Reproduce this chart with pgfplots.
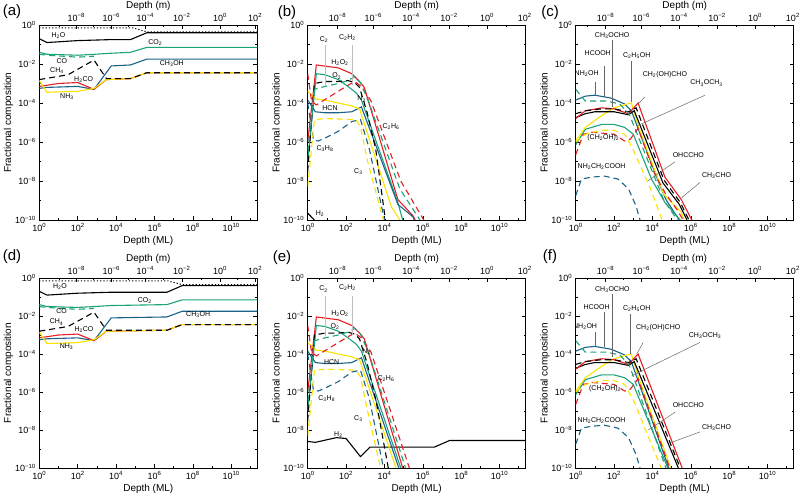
\documentclass[border=0pt]{standalone}
\usepackage{fontspec}
\setmainfont{Liberation Sans}
\usepackage{pgfplots}
\pgfplotsset{compat=1.18}
\newcommand{\tp}[1]{10\textsuperscript{#1}}
\newcommand{\mi}{\char"2212\relax}
\newcommand{\s}[1]{\textsubscript{#1}}
\definecolor{cred}{RGB}{228,30,36}
\definecolor{cgreen}{RGB}{28,162,122}
\definecolor{cblue}{RGB}{28,98,135}
\definecolor{cyel}{RGB}{250,226,0}
\tikzset{ds/.style={dash pattern=on 6pt off 4pt},
  mylab/.style={font=\fontsize{7}{8}\selectfont, inner sep=0pt},
  myletter/.style={font=\fontsize{15}{16}\selectfont},
  mylead/.style={gray!80!black, line width=0.5pt},
  myleadb/.style={gray!50, line width=1.5pt}}
\newcommand{\mainaxis}[2]{\begin{axis}[scale only axis, width=218pt, height=#2, at={#1}, anchor=south west,
    xmode=log, ymode=log, xmin=1, xmax=2.3e11, ymin=1e-10, ymax=1,
    tick label style={font=\fontsize{9}{10}\selectfont},
    label style={font=\fontsize{10}{12}\selectfont},
    major tick length=4pt, minor tick length=2pt, tick align=inside,
    axis line style={line width=0.8pt}, tick style={line width=0.6pt, black},
    xtick={1,1e2,1e4,1e6,1e8,1e10}, minor xtick={10,1e3,1e5,1e7,1e9,1e11},
    xticklabels={\tp{0},\tp{2},\tp{4},\tp{6},\tp{8},\tp{10}},
    ytick={1e-10,1e-8,1e-6,1e-4,1e-2,1}, minor ytick={1e-9,1e-7,1e-5,1e-3,1e-1},
    yticklabels={\tp{\mi10},\tp{\mi8},\tp{\mi6},\tp{\mi4},\tp{\mi2},\tp{0}},
    xtick pos=left, ylabel={Fractional composition}, xlabel={Depth (ML)},
    ylabel shift=-5pt, xlabel shift=-2pt,
    every axis plot/.append style={line width=1.1pt}]}
\newcommand{\topaxis}[5]{\begin{axis}[scale only axis, width=218pt, height=#2, at={#1}, anchor=south west,
    xmode=log, xmin=1, xmax=2.3e11, ymin=0, ymax=1,
    tick label style={font=\fontsize{9}{10}\selectfont},
    label style={font=\fontsize{10}{12}\selectfont},
    major tick length=4pt, minor tick length=2pt, tick align=inside,
    axis line style={line width=0.8pt}, tick style={line width=0.6pt, black},
    axis x line*=top, axis y line=none, xlabel={Depth (m)}, xlabel shift=-4pt,
    xtick={#3}, minor xtick={#4},
    xticklabels={\tp{\mi8},\tp{\mi6},\tp{\mi4},\tp{\mi2},\tp{0},\tp{2}}]
    \addplot[draw=none] coordinates {(1,0.5)};
    \end{axis}\node[myletter] at #5;}
\begin{document}
\begin{tikzpicture}
\useasboundingbox (0pt,0pt) rectangle (800pt,495pt);
%%%%%%%%%%%%%%%% (a)
\mainaxis{(39.3pt,275pt)}{195pt}
\addplot[black, line width=1pt, dash pattern=on 1.2pt off 2pt] coordinates {(1,0.7079)(7.943e4,0.7079)(3.981e5,0.4467)(2.3e11,0.4467)};
\addplot[black] coordinates {(1,0.1995)(2.512,0.1259)(100,0.1585)(5012,0.1778)(5.623e4,0.1778)(3.981e5,0.3981)(2.3e11,0.3981)};
\addplot[cgreen] coordinates {(1,3.981e-2)(2.512,3.162e-2)(100,2.818e-2)(794.3,3.162e-2)(5012,3.548e-2)(5.623e4,3.981e-2)(3.981e5,7.079e-2)(2.3e11,7.079e-2)};
\addplot[cgreen, ds] coordinates {(1,3.162e-2)(2.512,2.818e-2)(100,2.239e-2)(707.9,2.512e-2)};
\addplot[cblue] coordinates {(1,5.623e-4)(2.512,6.310e-4)(100,7.079e-4)(707.9,5.012e-4)(5623,7.943e-3)(5.623e4,8.913e-3)(3.981e5,1.778e-2)(2.3e11,1.778e-2)};
\addplot[cred] coordinates {(1,7.079e-4)(10,1e-3)(100,1.122e-3)(707.9,5.012e-4)(3162,1.585e-3)(5.623e4,1.778e-3)(3.981e5,3.548e-3)(2.3e11,3.548e-3)};
\addplot[cyel] coordinates {(1,1.413e-3)(2.512,3.548e-4)(100,3.981e-4)(707.9,5.623e-4)(3162,1.585e-3)(5.623e4,1.778e-3)(3.981e5,3.548e-3)(2.3e11,3.548e-3)};
\addplot[black, ds] coordinates {(1,1.585e-3)(31.62,2.818e-3)(707.9,1.585e-2)(3162,1.778e-3)(5.623e4,1.778e-3)(3.981e5,3.548e-3)(2.3e11,3.548e-3)};
\node[mylab] at (axis cs:10,0.275) {H\s{2}O};
\node[mylab] at (axis cs:1.1e6,0.123) {CO\s{2}};
\node[mylab] at (axis cs:15.1,1.41e-2) {CO};
\node[mylab] at (axis cs:8.1e6,1.07e-2) {CH\s{3}OH};
\node[mylab] at (axis cs:8.3,4.57e-3) {CH\s{4}};
\node[mylab] at (axis cs:204,1.51e-3) {H\s{2}CO};
\node[mylab] at (axis cs:27.5,2.09e-4) {NH\s{3}};
\end{axis}
\topaxis{(39.3pt,275pt)}{195pt}{85.1,5623,3.31e5,2.69e7,2.63e9,1.78e11}{10.5,692,4.3e4,2.99e6,2.66e8,2.16e10}{(12pt,483pt) {(a)}}
%%%%%%%%%%%%%%%% (b)
\mainaxis{(307.7pt,275pt)}{195pt}
\addplot[black] coordinates {(1,2.239e-10)(2.239,1e-10)};
\addplot[cred] coordinates {(1,1e-6)(2.818,8.913e-3)(39.81,6.310e-3)(199.5,3.162e-3)(562.3,1.122e-3)(891.3,6.310e-4)(5.012e4,1.122e-9)(3.162e5,1.585e-10)(3.981e5,1e-10)};
\addplot[cgreen] coordinates {(1,1e-7)(2.818,3.162e-3)(7.943,2.818e-3)(39.81,1.585e-3)(125.9,7.079e-4)(354.8,3.162e-4)(631,1.413e-4)(5.012e4,7.943e-10)(8.913e4,1e-10)};
\addplot[cblue] coordinates {(1,1.413e-4)(2.512,3.548e-5)(7.943,3.162e-5)(39.81,3.162e-5)(199.5,3.548e-5)(631,6.310e-5)(5.012e4,6.310e-10)(3.162e5,1.413e-10)(3.548e5,1e-10)};
\addplot[cyel] coordinates {(1,3.981e-4)(2.818,1.585e-4)(7.943,1.413e-4)(39.81,1e-4)(199.5,7.079e-5)(501.2,5.012e-5)(2.239e4,5.012e-10)(6.310e4,1e-10)};
\addplot[black, ds] coordinates {(1,3.162e-8)(2.239,1e-3)(7.943,1.259e-3)(39.81,1.259e-3)(125.9,1.413e-3)(281.8,1.122e-3)(501.2,6.310e-4)(1259,3.162e-5)(3548,3.981e-7)(1.122e4,1e-10)};
\addplot[cred, ds] coordinates {(1,3.162e-3)(1.585,1.259e-4)(2.818,7.943e-5)(100,7.079e-4)(281.8,1.259e-3)(631,7.079e-4)(1995,1.259e-4)(7.079e4,1e-8)(1.122e6,1e-10)};
\addplot[cgreen, ds] coordinates {(1,3.162e-7)(2.239,5.012e-4)(7.943,7.079e-4)(39.81,1e-3)(125.9,1.413e-3)(281.8,2.239e-3)(562.3,1.122e-3)(1585,1e-4)(6.310e4,3.981e-9)(7.079e5,1e-10)};
\addplot[cblue, ds] coordinates {(1,1e-4)(1.995,1.259e-6)(3.548,1.122e-6)(10,1.778e-6)(39.81,3.548e-6)(199.5,1.122e-5)(562.3,1.413e-5)(1585,5.012e-7)(1e4,1e-10)};
\addplot[cyel, ds] coordinates {(1,5.012e-9)(2.239,1.413e-5)(10,1.585e-5)(316.2,1.413e-5)(562.3,6.310e-6)(1259,1.259e-7)(7943,1.413e-10)(8913,1e-10)};
\addplot[myleadb] coordinates {(8.71,9.3e-2)(8.71,8.3e-4)};
\addplot[myleadb] coordinates {(219,9.3e-2)(219,8.3e-4)};
\node[mylab] at (axis cs:7.08,0.182) {C\s{2}};
\node[mylab] at (axis cs:117,0.234) {C\s{2}H\s{2}};
\node[mylab] at (axis cs:47.9,1.23e-2) {H\s{2}O\s{2}};
\node[mylab] at (axis cs:32.4,2.4e-3) {O\s{2}};
\node[mylab] at (axis cs:646,1.58e-4) {N\s{2}};
\node[mylab] at (axis cs:14.5,5.37e-5) {HCN};
\node[mylab] at (axis cs:2.2e4,6.17e-6) {C\s{2}H\s{6}};
\node[mylab] at (axis cs:7.94,4.79e-7) {C\s{3}H\s{8}};
\node[mylab] at (axis cs:437,3.02e-8) {C\s{3}};
\node[mylab] at (axis cs:4.37,2.19e-10) {H\s{2}};
\end{axis}
\topaxis{(307.7pt,275pt)}{195pt}{35.5,2630,2.40e5,2.34e7,2.24e9,2.09e11}{3.98,305,2.51e4,2.37e6,2.29e8,2.16e10}{(287pt,482pt) {(b)}}
%%%%%%%%%%%%%%%% (c)
\mainaxis{(575.7pt,275pt)}{195pt}
\addplot[cblue] coordinates {(1,1.413e-4)(3.162,2.239e-4)(10,2.512e-4)(70.79,1.778e-4)(354.8,8.913e-5)(794.3,3.981e-5)(1.995e4,1e-8)(5.012e4,1.122e-9)(2.512e5,1e-10)};
\addplot[cgreen] coordinates {(1,7.079e-7)(3.162,4.467e-6)(22.39,7.943e-6)(100,7.943e-6)(354.8,5.623e-6)(1000,2.512e-6)(8913,1.259e-8)(4.467e4,7.943e-10)(2.818e5,1e-10)};
\addplot[cyel] coordinates {(1,1.122e-6)(3.162,5.623e-6)(22.39,2.239e-5)(100,5.623e-5)(316.2,7.943e-5)(794.3,1e-4)(1995,5.012e-6)(3.981e4,1.995e-9)(3.162e5,2.512e-10)(4.467e5,1e-10)};
\addplot[black] coordinates {(1,1.778e-5)(3.162,2.818e-5)(10,3.548e-5)(100,3.548e-5)(562.3,2.512e-5)(1122,3.981e-5)(3.548e4,7.943e-9)(2.512e5,6.310e-10)(6.310e5,1e-10)};
\addplot[cred] coordinates {(1,1.585e-5)(3.162,3.981e-5)(22.39,5.623e-5)(100,5.012e-5)(562.3,2.818e-5)(1778,1e-4)(4.467e4,1.585e-8)(3.162e5,1.122e-9)(1.122e6,1e-10)};
\addplot[black, ds] coordinates {(1,2.818e-5)(3.162,3.981e-5)(22.39,5.012e-5)(100,5.012e-5)(562.3,3.548e-5)(1413,5.623e-5)(3.981e4,1.122e-8)(2.818e5,7.943e-10)(7.943e5,1e-10)};
\addplot[cgreen, ds] coordinates {(1,5.012e-4)(3.162,1.259e-4)(39.81,1.259e-4)(199.5,8.913e-5)(631,2.512e-5)(3.981e4,1e-9)(1.995e5,1e-10)};
\addplot[cred, ds] coordinates {(1,2.239e-7)(2.512,2.512e-6)(7.079,3.162e-6)(100,2.512e-6)(354.8,1.122e-6)(707.9,1.413e-6)(1778,5.012e-6)(1.259e4,2.512e-8)(4.467e4,2.512e-9)(1.995e5,3.162e-10)(3.981e5,1e-10)};
\addplot[cyel, ds] coordinates {(1,1e-6)(3.162,2.512e-6)(22.39,3.981e-6)(100,3.981e-6)(354.8,2.512e-6)(1000,3.981e-7)(7943,3.981e-9)(3.162e4,1e-10)};
\addplot[cblue, ds] coordinates {(1,1.778e-9)(1.995,1.259e-8)(7.079,1.585e-8)(31.62,1.778e-8)(158.5,1.259e-8)(562.3,3.981e-9)(1413,5.012e-10)(2239,1e-10)};
\addplot[mylead] coordinates {(81.3,0.162)(81.3,6.3e-5)};
\addplot[mylead] coordinates {(29.5,7.94e-3)(29.5,2.09e-4)};
\addplot[mylead] coordinates {(10,1.26e-3)(10,2.24e-4)};
\addplot[mylead] coordinates {(759,1.45e-2)(759,1.12e-4)};
\addplot[mylead] coordinates {(4074,2.09e-4)(1820,9.1e-5)};
\addplot[mylead] coordinates {(5.5e6,2.51e-4)(1514,6.6e-6)};
\addplot[mylead] coordinates {(1.48e5,9.55e-8)(6026,1.05e-8)};
\addplot[mylead] coordinates {(3.02e6,8.5e-9)(3.31e5,1.38e-9)};
\node[mylab] at (axis cs:79.4,0.275) {CH\s{3}OCHO};
\node[mylab] at (axis cs:14.1,3.63e-2) {HCOOH};
\node[mylab] at (axis cs:3.72,3.24e-3) {NH\s{2}OH};
\node[mylab] at (axis cs:1514,2.63e-2) {C\s{2}H\s{5}OH};
\node[mylab] at (axis cs:4.47e4,2.88e-3) {CH\s{2}(OH)CHO};
\node[mylab] at (axis cs:6.6e6,1.05e-3) {CH\s{3}OCH\s{3}};
\node[mylab] at (axis cs:27.5,1.62e-6) {(CH\s{2}OH)\s{2}};
\node[mylab] at (axis cs:22.4,5.25e-8) {NH\s{2}CH\s{2}COOH};
\node[mylab] at (axis cs:7.4e5,2.14e-7) {OHCCHO};
\node[mylab] at (axis cs:2.19e7,1.9e-8) {CH\s{3}CHO};
\end{axis}
\topaxis{(575.7pt,275pt)}{195pt}{35.5,2630,2.40e5,2.34e7,2.24e9,2.09e11}{3.98,305,2.51e4,2.37e6,2.29e8,2.16e10}{(550pt,482pt) {(c)}}
%%%%%%%%%%%%%%%% (d)
\mainaxis{(39.3pt,27pt)}{190pt}
\addplot[black, line width=1pt, dash pattern=on 1.2pt off 2pt] coordinates {(1,0.7079)(5.012e6,0.7079)(2.818e7,0.4467)(2.3e11,0.4467)};
\addplot[black] coordinates {(1,0.1995)(2.512,0.1259)(100,0.1585)(5012,0.1778)(4.467e6,0.1778)(2.818e7,0.3981)(2.3e11,0.3981)};
\addplot[cgreen] coordinates {(1,3.981e-2)(2.512,3.162e-2)(100,2.818e-2)(794.3,3.162e-2)(5012,3.548e-2)(4.467e6,3.981e-2)(2.818e7,7.079e-2)(2.3e11,7.079e-2)};
\addplot[cgreen, ds] coordinates {(1,3.162e-2)(2.512,2.818e-2)(100,2.239e-2)(707.9,2.512e-2)};
\addplot[cblue] coordinates {(1,5.623e-4)(2.512,6.310e-4)(100,7.079e-4)(707.9,5.012e-4)(5623,7.943e-3)(4.467e6,8.913e-3)(2.818e7,1.778e-2)(2.3e11,1.778e-2)};
\addplot[cred] coordinates {(1,7.079e-4)(10,1e-3)(100,1.122e-3)(707.9,5.012e-4)(3162,1.585e-3)(4.467e6,1.778e-3)(2.818e7,3.548e-3)(2.3e11,3.548e-3)};
\addplot[cyel] coordinates {(1,1.413e-3)(2.512,3.548e-4)(100,3.981e-4)(707.9,5.623e-4)(3162,1.585e-3)(4.467e6,1.778e-3)(2.818e7,3.548e-3)(2.3e11,3.548e-3)};
\addplot[black, ds] coordinates {(1,1.585e-3)(31.62,2.818e-3)(707.9,1.585e-2)(3162,1.778e-3)(4.467e6,1.778e-3)(2.818e7,3.548e-3)(2.3e11,3.548e-3)};
\node[mylab] at (axis cs:12,0.339) {H\s{2}O};
\node[mylab] at (axis cs:3.16e5,6.46e-2) {CO\s{2}};
\node[mylab] at (axis cs:14.5,1.74e-2) {CO};
\node[mylab] at (axis cs:1.9e8,1.2e-2) {CH\s{3}OH};
\node[mylab] at (axis cs:7.9,4.8e-3) {CH\s{4}};
\node[mylab] at (axis cs:214,2e-3) {H\s{2}CO};
\node[mylab] at (axis cs:26.3,2.45e-4) {NH\s{3}};
\end{axis}
\topaxis{(39.3pt,27pt)}{190pt}{85.1,5623,3.31e5,2.69e7,2.63e9,1.78e11}{10.5,692,4.3e4,2.99e6,2.66e8,2.16e10}{(12pt,238pt) {(d)}}
%%%%%%%%%%%%%%%% (e)
\mainaxis{(307.7pt,27pt)}{190pt}
\addplot[black] coordinates {(1,2.512e-9)(2.512,2.239e-9)(31.62,3.981e-9)(100,3.548e-9)(562.3,3.981e-10)(1778,1.259e-9)(3.981e6,1.259e-9)(2.512e7,2.818e-9)(2.3e11,2.818e-9)};
\addplot[cred] coordinates {(1,1e-6)(2.818,8.913e-3)(39.81,6.310e-3)(199.5,3.162e-3)(562.3,1.122e-3)(891.3,6.310e-4)(8.913e4,1e-10)};
\addplot[cgreen] coordinates {(1,1e-7)(2.818,3.162e-3)(7.943,2.818e-3)(39.81,1.585e-3)(125.9,7.079e-4)(354.8,3.162e-4)(631,1.413e-4)(7.079e4,1e-10)};
\addplot[cblue] coordinates {(1,1.413e-4)(2.512,3.548e-5)(7.943,3.162e-5)(39.81,3.162e-5)(199.5,3.548e-5)(631,6.310e-5)(5.623e4,1e-10)};
\addplot[cyel] coordinates {(1,3.981e-4)(2.818,1.585e-4)(7.943,1.413e-4)(39.81,1e-4)(199.5,7.079e-5)(501.2,5.012e-5)(3.981e4,1e-10)};
\addplot[black, ds] coordinates {(1,3.162e-8)(2.239,1e-3)(7.943,1.259e-3)(39.81,1.259e-3)(125.9,1.413e-3)(281.8,1.122e-3)(501.2,6.310e-4)(1259,3.162e-5)(3548,3.981e-7)(1.585e4,1e-10)};
\addplot[cred, ds] coordinates {(1,3.162e-3)(1.585,1.259e-4)(2.818,7.943e-5)(100,7.079e-4)(281.8,1.259e-3)(631,7.079e-4)(1995,1.259e-4)(1.995e5,1e-10)};
\addplot[cgreen, ds] coordinates {(1,3.162e-7)(2.239,5.012e-4)(7.943,7.079e-4)(39.81,1e-3)(125.9,1.413e-3)(281.8,2.239e-3)(562.3,1.122e-3)(1585,1e-4)(1.259e5,1e-10)};
\addplot[cblue, ds] coordinates {(1,1e-4)(1.995,1.259e-6)(3.548,1.122e-6)(10,1.778e-6)(39.81,3.548e-6)(199.5,1.122e-5)(562.3,1.413e-5)(1585,5.012e-7)(8913,1e-10)};
\addplot[cyel, ds] coordinates {(1,5.012e-9)(2.239,1.413e-5)(10,1.585e-5)(316.2,1.413e-5)(562.3,6.310e-6)(1259,1.259e-7)(6310,1e-10)};
\addplot[myleadb] coordinates {(8.71,0.117)(8.71,9.3e-4)};
\addplot[myleadb] coordinates {(219,0.117)(219,1e-3)};
\node[mylab] at (axis cs:6.6,0.263) {C\s{2}};
\node[mylab] at (axis cs:117,0.324) {C\s{2}H\s{2}};
\node[mylab] at (axis cs:47.9,1.29e-2) {H\s{2}O\s{2}};
\node[mylab] at (axis cs:26.3,2.75e-3) {O\s{2}};
\node[mylab] at (axis cs:1175,1.35e-4) {N\s{2}};
\node[mylab] at (axis cs:17.8,3.72e-5) {HCN};
\node[mylab] at (axis cs:1.2e4,4.9e-6) {C\s{2}H\s{6}};
\node[mylab] at (axis cs:9.8,4.37e-7) {C\s{3}H\s{8}};
\node[mylab] at (axis cs:437,3.9e-8) {C\s{3}};
\node[mylab] at (axis cs:39.8,5.62e-9) {H\s{2}};
\end{axis}
\topaxis{(307.7pt,27pt)}{190pt}{35.5,2630,2.40e5,2.34e7,2.24e9,2.09e11}{3.98,305,2.51e4,2.37e6,2.29e8,2.16e10}{(282pt,237pt) {(e)}}
%%%%%%%%%%%%%%%% (f)
\mainaxis{(575.7pt,27pt)}{190pt}
\addplot[cblue] coordinates {(1,1.413e-4)(3.162,2.239e-4)(10,2.512e-4)(70.79,1.778e-4)(354.8,8.913e-5)(794.3,3.981e-5)(7.079e4,1e-10)};
\addplot[cgreen] coordinates {(1,7.079e-7)(3.162,4.467e-6)(22.39,7.943e-6)(100,7.943e-6)(354.8,5.623e-6)(1000,2.512e-6)(6.310e4,1e-10)};
\addplot[cyel] coordinates {(1,1.122e-6)(3.162,5.623e-6)(22.39,2.239e-5)(100,5.623e-5)(316.2,7.943e-5)(794.3,1e-4)(1995,5.012e-6)(8.913e4,1e-10)};
\addplot[black] coordinates {(1,1.778e-5)(3.162,2.818e-5)(10,3.548e-5)(100,3.548e-5)(562.3,2.512e-5)(1122,3.981e-5)(2.239e5,1e-10)};
\addplot[cred] coordinates {(1,1.585e-5)(3.162,3.981e-5)(22.39,5.623e-5)(100,5.012e-5)(562.3,2.818e-5)(1778,1e-4)(3.548e5,1e-10)};
\addplot[black, ds] coordinates {(1,2.818e-5)(3.162,3.981e-5)(22.39,5.012e-5)(100,5.012e-5)(562.3,3.548e-5)(1413,5.623e-5)(2.818e5,1e-10)};
\addplot[cgreen, ds] coordinates {(1,5.012e-4)(3.162,1.259e-4)(39.81,1.259e-4)(199.5,8.913e-5)(631,2.512e-5)(5.012e4,1e-10)};
\addplot[cred, ds] coordinates {(1,2.239e-7)(2.512,2.512e-6)(7.079,3.162e-6)(100,2.512e-6)(354.8,1.122e-6)(707.9,1.413e-6)(1778,5.012e-6)(7.943e4,1e-10)};
\addplot[cyel, ds] coordinates {(1,1e-6)(3.162,2.512e-6)(22.39,3.981e-6)(100,3.981e-6)(354.8,2.512e-6)(1000,3.981e-7)(2.818e4,1e-10)};
\addplot[cblue, ds] coordinates {(1,1.778e-9)(1.995,1.259e-8)(7.079,1.585e-8)(31.62,1.778e-8)(158.5,1.259e-8)(562.3,3.981e-9)(1413,5.012e-10)(2239,1e-10)};
\addplot[mylead] coordinates {(81.3,0.145)(81.3,6.76e-5)};
\addplot[mylead] coordinates {(30.2,1.58e-2)(30.2,2.24e-4)};
\addplot[mylead] coordinates {(10,1.38e-3)(10,2.24e-4)};
\addplot[mylead] coordinates {(724,1.29e-2)(724,1e-4)};
\addplot[mylead] coordinates {(3311,4.07e-4)(1514,1e-4)};
\addplot[mylead] coordinates {(3.02e6,4.07e-4)(832,7.24e-6)};
\addplot[mylead] coordinates {(1.48e5,8.5e-8)(6026,1e-8)};
\addplot[mylead] coordinates {(3.02e6,7.94e-9)(1e5,2.24e-9)};
\node[mylab] at (axis cs:81.3,0.234) {CH\s{3}OCHO};
\node[mylab] at (axis cs:12.3,2.88e-2) {HCOOH};
\node[mylab] at (axis cs:3.09,2.88e-3) {NH\s{2}OH};
\node[mylab] at (axis cs:1514,2.34e-2) {C\s{2}H\s{5}OH};
\node[mylab] at (axis cs:2e4,2.51e-3) {CH\s{2}(OH)CHO};
\node[mylab] at (axis cs:5.5e6,9.3e-4) {CH\s{3}OCH\s{3}};
\node[mylab] at (axis cs:33.9,1.45e-6) {(CH\s{2}OH)\s{2}};
\node[mylab] at (axis cs:22.4,3.16e-8) {NH\s{2}CH\s{2}COOH};
\node[mylab] at (axis cs:7.4e5,2.14e-7) {OHCCHO};
\node[mylab] at (axis cs:2.19e7,1.35e-8) {CH\s{3}CHO};
\end{axis}
\topaxis{(575.7pt,27pt)}{190pt}{35.5,2630,2.40e5,2.34e7,2.24e9,2.09e11}{3.98,305,2.51e4,2.37e6,2.29e8,2.16e10}{(550pt,238pt) {(f)}}
\end{tikzpicture}
\end{document}
